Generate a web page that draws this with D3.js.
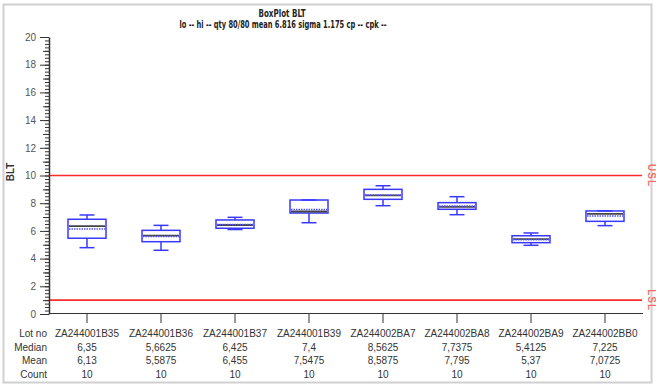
<!DOCTYPE html>
<html><head><meta charset="utf-8">
<script src="https://cdn.jsdelivr.net/npm/d3@7"></script>
<style>
body{margin:0;background:#fff;}
svg{display:block;font-family:"Liberation Sans",Arial,sans-serif;}
</style></head>
<body><svg id="c" width="656" height="386"></svg>
<script>
const lots = ["ZA244001B35","ZA244001B36","ZA244001B37","ZA244001B39","ZA244002BA7","ZA244002BA8","ZA244002BA9","ZA244002BB0"];
const medianLabels = ["6,35","5,6625","6,425","7,4","8,5625","7,7375","5,4125","7,225"];
const meanLabels = ["6,13","5,5875","6,455","7,5475","8,5875","7,795","5,37","7,0725"];
const countLabels = ["10","10","10","10","10","10","10","10"];
const medians = [6.35,5.6625,6.425,7.4,8.5625,7.7375,5.4125,7.225];
const means = [6.13,5.5875,6.455,7.5475,8.5875,7.795,5.37,7.0725];
const q1 = [5.47,5.22,6.19,7.29,8.28,7.56,5.15,6.69];
const q3 = [6.84,6.04,6.79,8.23,9.00,8.04,5.65,7.44];
const lo = [4.79,4.60,6.10,6.59,7.82,7.17,4.96,6.38];
const hi = [7.15,6.40,6.98,8.23,9.26,8.47,5.85,7.44];
const specLimits = [{name:"USL", value:10},{name:"LSL", value:1}];
const yMajorTicks = [0,2,4,6,8,10,12,14,16,18,20];
const rowNames = ["Lot no","Median","Mean","Count"];
const title = "BoxPlot BLT";
const subtitle = "lo -- hi -- qty 80/80 mean 6.816 sigma 1.175 cp -- cpk --";

const svg = d3.select("#c");
const blue = "#3838ff", red = "#ff2b2b";

// outer frame
svg.append("rect").attr("x",3.5).attr("y",4.5).attr("width",648).attr("height",378)
  .attr("fill","none").attr("stroke","#d0d0d0").attr("stroke-width",2);

const y = d3.scaleLinear().domain([0,20]).range([314,37]);
const x = d3.scaleBand().domain(lots).range([50,642]).padding(0);
const cx = d => x(d) + x.bandwidth()/2;

// titles
const narrow = '"Liberation Sans Narrow","Arial Narrow","DejaVu Sans Condensed","Liberation Sans",sans-serif';
svg.append("text").attr("x",282).attr("y",16.5).attr("text-anchor","middle")
  .style("font-family",narrow).style("font-size","10.5px").style("font-weight","bold").attr("fill","#222")
  .attr("textLength",47).attr("lengthAdjust","spacingAndGlyphs").text(title);
svg.append("text").attr("x",283).attr("y",27.5).attr("text-anchor","middle")
  .style("font-family",narrow).style("font-size","10.5px").style("font-weight","bold").attr("fill","#222")
  .attr("textLength",207).attr("lengthAdjust","spacingAndGlyphs").text(subtitle);

// y axis minor ticks
const gMinor = svg.append("g").attr("transform","translate(49,0)")
  .call(d3.axisLeft(y).tickValues(d3.range(0,20.001,0.25)).tickSize(4).tickFormat(""));
gMinor.select(".domain").remove();
const gMid = svg.append("g").attr("transform","translate(49,0)")
  .call(d3.axisLeft(y).tickValues(d3.range(1,20,2)).tickSize(6).tickFormat(""));
gMid.select(".domain").remove();
const gy = svg.append("g").attr("transform","translate(49,0)")
  .call(d3.axisLeft(y).tickValues(yMajorTicks).tickSize(9).tickSizeOuter(0).tickPadding(4));
svg.selectAll("g line").attr("stroke","#333");
gy.select(".domain").attr("stroke","#333").attr("stroke-width",1.5);
gy.selectAll("text").style("font-size","10px").attr("fill","#555").style("font-family","'Liberation Sans',Arial,sans-serif");

svg.append("text").attr("transform","translate(14,172) rotate(-90)").attr("text-anchor","middle")
  .style("font-size","10px").style("font-weight","bold").attr("fill","#333").text("BLT");

// x axis
const gx = svg.append("g").attr("transform","translate(0,313)")
  .call(d3.axisBottom(x).tickSize(10).tickSizeOuter(0).tickFormat(""));
gx.select(".domain").attr("stroke","#333").attr("d","M49,0.5H643");
gx.selectAll("line").attr("stroke","#333");

// spec limits
specLimits.forEach(s=>{
  svg.append("line").attr("x1",50).attr("x2",642).attr("y1",y(s.value)).attr("y2",y(s.value))
    .attr("stroke",red).attr("stroke-width",1.6);
  svg.append("text").attr("transform",`translate(648,${y(s.value)}) rotate(90)`).attr("text-anchor","middle")
    .style("font-size","10px").style("font-weight","bold").attr("fill","#f07070").style("letter-spacing","1px").text(s.name);
});

// boxplots
const bw = 38, cw = 15;
lots.forEach((l,i)=>{
  const c = cx(l);
  const g = svg.append("g");
  g.append("line").attr("x1",c).attr("x2",c).attr("y1",y(hi[i])).attr("y2",y(q3[i])).attr("stroke",blue).attr("stroke-width",1.5);
  g.append("line").attr("x1",c).attr("x2",c).attr("y1",y(q1[i])).attr("y2",y(lo[i])).attr("stroke",blue).attr("stroke-width",1.5);
  g.append("line").attr("x1",c-cw/2).attr("x2",c+cw/2).attr("y1",y(hi[i])).attr("y2",y(hi[i])).attr("stroke",blue).attr("stroke-width",1.5);
  g.append("line").attr("x1",c-cw/2).attr("x2",c+cw/2).attr("y1",y(lo[i])).attr("y2",y(lo[i])).attr("stroke",blue).attr("stroke-width",1.5);
  g.append("rect").attr("x",c-bw/2).attr("y",y(q3[i])).attr("width",bw).attr("height",y(q1[i])-y(q3[i]))
    .attr("fill","none").attr("stroke",blue).attr("stroke-width",1.5);
  g.append("line").attr("x1",c-bw/2+1).attr("x2",c+bw/2-1).attr("y1",y(medians[i])).attr("y2",y(medians[i]))
    .attr("stroke","#444").attr("stroke-width",1.8);
  g.append("line").attr("x1",c-bw/2+1).attr("x2",c+bw/2-1).attr("y1",y(means[i])).attr("y2",y(means[i]))
    .attr("stroke","#5555ff").attr("stroke-width",1.5).attr("stroke-dasharray","1.5,1");
});

// table
const rowY = [337,350.5,364,377.5];
const rows = [lots, medianLabels, meanLabels, countLabels];
const tg = svg.append("g").style("font-size","10px").attr("fill","#333");
rowNames.forEach((n,r)=>{
  tg.append("text").attr("x",47).attr("y",rowY[r]).attr("text-anchor","end").text(n);
  rows[r].forEach((v,i)=>{
    tg.append("text").attr("x",cx(lots[i])).attr("y",rowY[r]).attr("text-anchor","middle").text(v);
  });
});
</script></body></html>
